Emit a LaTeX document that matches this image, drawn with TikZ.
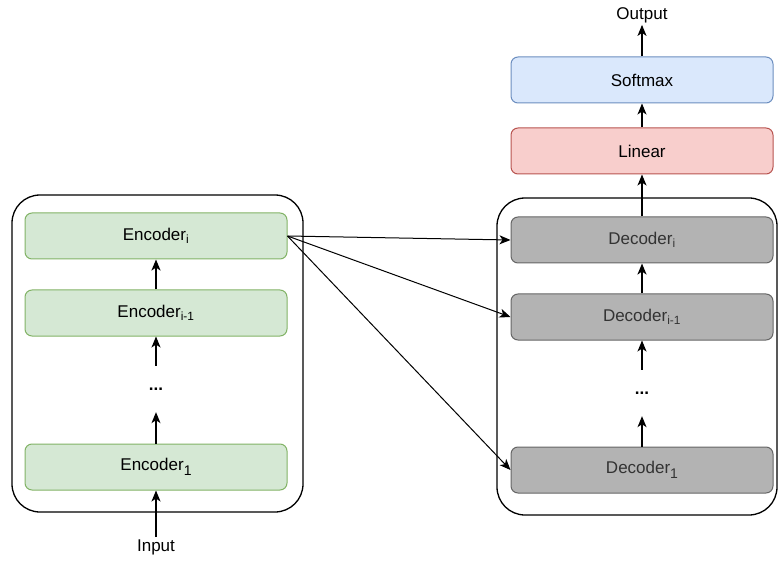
\documentclass[tikz,border=0pt]{standalone}
\usepackage{fontspec}
\setmainfont{Liberation Sans}
\usetikzlibrary{arrows.meta}
\definecolor{encfill}{HTML}{D5E8D4}
\definecolor{encline}{HTML}{82B366}
\definecolor{decfill}{HTML}{B3B3B3}
\definecolor{decline}{HTML}{666666}
\definecolor{dectext}{HTML}{333333}
\definecolor{linfill}{HTML}{F8CECC}
\definecolor{linline}{HTML}{B85450}
\definecolor{softfill}{HTML}{DAE8FC}
\definecolor{softline}{HTML}{6C8EBF}
% larger lowered index used for the first layer
\newcommand\firstidx[1]{\raisebox{-4.5pt}{\fontsize{14}{14}\selectfont #1}}
\tikzset{
  block/.style={draw, rounded corners=7pt, line width=1pt, minimum width=262pt,
    minimum height=46pt, inner sep=0pt, font=\fontsize{17}{20}\selectfont},
  encbox/.style={block, fill=encfill, draw=encline},
  decbox/.style={block, fill=decfill, draw=decline, text=dectext},
  linbox/.style={block, fill=linfill, draw=linline},
  softbox/.style={block, fill=softfill, draw=softline},
  gap/.style={minimum width=262pt, minimum height=46pt, inner sep=0pt,
    font=\fontsize{17}{20}\selectfont\bfseries},
  stack/.style={draw, rounded corners=28pt, line width=1.3pt, inner sep=0pt},
  label/.style={inner sep=2pt, font=\fontsize{17}{20}\selectfont},
  flow/.style={-{Stealth[length=11pt, width=9pt, inset=3pt]}, line width=1.1pt},
  flowbold/.style={flow, line width=2pt},
  cross/.style={-{Stealth[length=11pt, width=9pt, inset=3pt]}, line width=1pt}
}
\begin{document}
\begin{tikzpicture}[x=1pt, y=-1pt]
\useasboundingbox (0,0) rectangle (779,561);

% outer stacks
\node[stack, minimum width=291pt, minimum height=317pt] (encstack) at (157.5,353.5) {};
\node[stack, minimum width=280pt, minimum height=317pt] (decstack) at (637,356.5) {};

% encoder side
\node[encbox] (enci) at (156,236) {Encoder\textsubscript{i}};
\node[encbox] (encim) at (156,313) {Encoder\textsubscript{i-1}};
\node[gap] (encdots) at (156,389) {...};
\node[encbox] (enc1) at (156,467) {Encoder\firstidx{1}};
\node[label] (input) at (156,547) {Input};

% decoder side
\node[decbox] (deci) at (642,240) {Decoder\textsubscript{i}};
\node[decbox] (decim) at (642,317) {Decoder\textsubscript{i-1}};
\node[gap] (decdots) at (642,393) {...};
\node[decbox] (dec1) at (642,470) {Decoder\firstidx{1}};

% output head
\node[linbox] (linear) at (642,151) {Linear};
\node[softbox] (softmax) at (642,80) {Softmax};
\node[label] (output) at (642,15) {Output};

% encoder flow
\draw[flow] (input) -- (enc1);
\draw[flow] (enc1) -- (encdots);
\draw[flow] (encdots) -- (encim);
\draw[flowbold] (encim) -- (enci);

% decoder flow
\draw[flow] (dec1) -- (decdots);
\draw[flow] (decdots) -- (decim);
\draw[flowbold] (decim) -- (deci);
\draw[flow] (deci) -- (linear);
\draw[flow] (linear) -- (softmax);
\draw[flow] (softmax) -- (output);

% encoder output fed to every decoder layer
\draw[cross] (enci.east) -- (deci.west);
\draw[cross] (enci.east) -- (decim.west);
\draw[cross] (enci.east) -- (dec1.west);
\end{tikzpicture}
\end{document}
